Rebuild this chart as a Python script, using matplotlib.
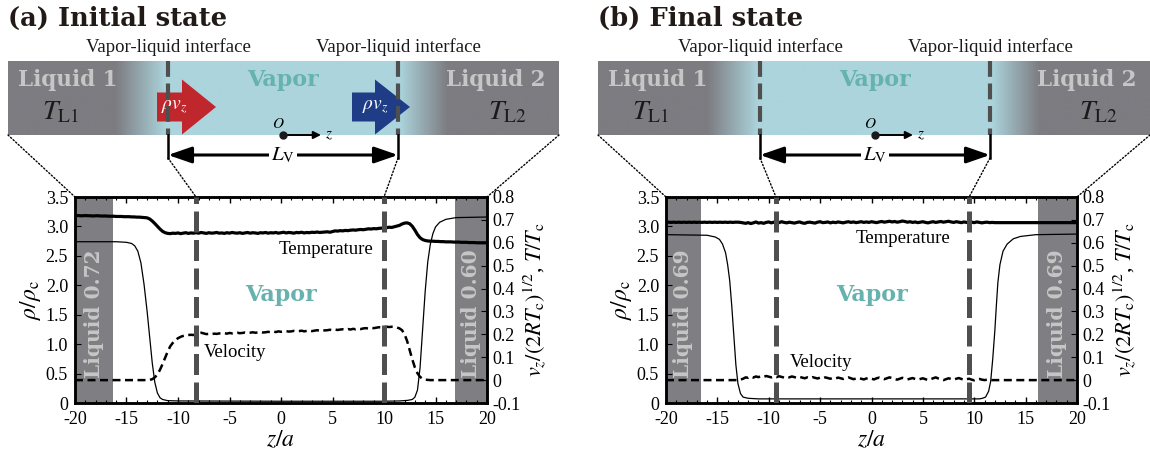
import numpy as np
import matplotlib
matplotlib.use("Agg")
import matplotlib.pyplot as plt
from matplotlib.patches import FancyArrow, ConnectionPatch
from matplotlib.ticker import MultipleLocator

plt.rcParams['font.family'] = ['Liberation Serif', 'DejaVu Serif']
plt.rcParams['mathtext.fontset'] = 'stix'
plt.rcParams['axes.unicode_minus'] = False

# sampling grid of the simulation profiles (z/a)
z_grid = np.arange(-20, 20.001, 0.25)

# ---- (a) initial state ----
temp_a = ([0.718, 0.719, 0.718, 0.718, 0.719, 0.718, 0.718, 0.717, 0.718, 0.718, 0.717,
           0.717, 0.717, 0.716, 0.716, 0.716, 0.715, 0.715, 0.715, 0.714, 0.714]
          + [0.714, 0.713, 0.713, 0.712, 0.712, 0.711, 0.710, 0.709]
          + [0.704, 0.695, 0.684, 0.672, 0.660, 0.650, 0.644, 0.641]
          + [0.640, 0.642, 0.641, 0.643, 0.640, 0.642, 0.644, 0.641, 0.643, 0.642,
             0.644, 0.642, 0.645, 0.643, 0.641, 0.644, 0.642, 0.643, 0.645, 0.642,
             0.643, 0.641, 0.644, 0.642, 0.645, 0.643, 0.642, 0.644, 0.641, 0.643,
             0.645, 0.642, 0.644, 0.643, 0.641, 0.644, 0.643, 0.645, 0.642, 0.644,
             0.643, 0.645, 0.642, 0.644, 0.646, 0.643, 0.645, 0.644, 0.642, 0.645,
             0.644, 0.646, 0.643, 0.645, 0.644, 0.646, 0.645, 0.647, 0.645, 0.646]
          + [0.647, 0.648, 0.646, 0.649, 0.652, 0.651, 0.653, 0.652, 0.654, 0.653, 0.655, 0.656,
             0.655, 0.657, 0.658, 0.657, 0.659, 0.661, 0.660, 0.662, 0.661, 0.663, 0.664, 0.663]
          + [0.666, 0.668, 0.667, 0.670, 0.673, 0.676, 0.682, 0.686]
          + [0.687, 0.683, 0.672, 0.655, 0.636, 0.622, 0.614, 0.610]
          + [0.608, 0.607, 0.607, 0.606, 0.606, 0.605, 0.605, 0.604, 0.604, 0.604, 0.603, 0.603,
             0.603, 0.602, 0.602, 0.602, 0.601, 0.601, 0.601, 0.600, 0.600, 0.600, 0.600, 0.600])

vel_a = ([0.0] * 28
         + [0.000, 0.001, 0.004, 0.012, 0.025, 0.045, 0.070, 0.098, 0.125, 0.148, 0.163,
            0.175, 0.183, 0.189, 0.193, 0.196, 0.197]
         + [0.198, 0.197, 0.200, 0.205, 0.207, 0.204, 0.201, 0.202, 0.200, 0.203,
            0.202, 0.204, 0.203, 0.205, 0.203, 0.206, 0.204, 0.205, 0.207, 0.205,
            0.206, 0.208, 0.206, 0.207, 0.209, 0.207, 0.208, 0.210, 0.208, 0.209,
            0.211, 0.209, 0.212, 0.210, 0.213, 0.211, 0.212, 0.214, 0.212, 0.213,
            0.215, 0.213, 0.214, 0.216, 0.213, 0.215, 0.217, 0.214, 0.216, 0.218,
            0.216, 0.219, 0.217, 0.218, 0.220, 0.218, 0.221, 0.219, 0.221, 0.222,
            0.220, 0.223, 0.221, 0.224, 0.222, 0.225, 0.223, 0.226, 0.227, 0.225,
            0.228, 0.227, 0.229, 0.231, 0.230, 0.232, 0.233, 0.232]
         + [0.233, 0.232, 0.230, 0.226, 0.218, 0.200, 0.170, 0.130, 0.090, 0.055, 0.030,
            0.014, 0.006, 0.002, 0.001, 0.000]
         + [0.0] * 22)

rho_z_a = [-20, -16, -15, -14.5, -14.2, -13.9, -13.6, -13.3, -13.0, -12.75, -12.5, -12.25,
           -12.0, -11.75, -11.5, -11.0, -10.0, 0, 10, 11.5, 12.3, 12.75, 13.0, 13.25, 13.5,
           13.75, 14.0, 14.25, 14.5, 14.75, 15.0, 15.4, 16.0, 17.0, 20]
rho_a = [2.74, 2.74, 2.73, 2.71, 2.67, 2.58, 2.38, 2.02, 1.56, 1.12, 0.68, 0.35,
         0.17, 0.09, 0.06, 0.04, 0.035, 0.03, 0.03, 0.035, 0.045, 0.06, 0.10, 0.22, 0.60,
         1.25, 1.90, 2.40, 2.70, 2.88, 2.99, 3.07, 3.12, 3.15, 3.16]

# ---- (b) final state ----
temp_b = ([0.689, 0.690] * 14
          + [0.690, 0.689, 0.687, 0.685, 0.688, 0.684, 0.687, 0.691, 0.686, 0.688,
             0.685, 0.689, 0.691, 0.687, 0.690, 0.686, 0.688, 0.692, 0.689, 0.687,
             0.690, 0.688, 0.686, 0.689, 0.691, 0.687, 0.685, 0.689, 0.690, 0.688,
             0.686, 0.690, 0.692, 0.688, 0.689, 0.691, 0.687, 0.690, 0.688, 0.691,
             0.689, 0.687, 0.690, 0.692, 0.689, 0.691, 0.688, 0.690, 0.692, 0.689,
             0.691, 0.689, 0.692, 0.690, 0.688, 0.691, 0.693, 0.690, 0.692, 0.694,
             0.691, 0.693, 0.690, 0.692, 0.695, 0.693, 0.690, 0.692, 0.689, 0.691,
             0.688, 0.690, 0.692, 0.689, 0.687, 0.690, 0.692, 0.689, 0.691, 0.693,
             0.690, 0.692, 0.694, 0.691, 0.689, 0.692, 0.690, 0.688, 0.691, 0.689,
             0.687, 0.690, 0.688, 0.691, 0.689, 0.687, 0.689, 0.690, 0.688, 0.689,
             0.688]
          + [0.688] * 32)

vel_b = ([0.0] * 28
         + [0.000, 0.002, 0.006, 0.012, 0.010, 0.015, 0.011, 0.016, 0.013, 0.017,
            0.014, 0.018, 0.015, 0.012, 0.016, 0.013, 0.017, 0.014, 0.011, 0.015,
            0.012, 0.016, 0.013, 0.010, 0.014, 0.011, 0.008, 0.012, 0.009, 0.013,
            0.010, 0.007, 0.011, 0.008, 0.012, 0.009, 0.006, 0.010, 0.007, 0.011,
            0.008, 0.005, 0.009, 0.012, 0.008, 0.004, 0.007, 0.010, 0.006, 0.003,
            0.007, 0.010, 0.006, 0.003, 0.008, 0.011, 0.007, 0.004, 0.008, 0.012,
            0.009, 0.005, 0.002, 0.006, 0.010, 0.007, 0.003, 0.006, 0.009, 0.005,
            0.002, 0.005, 0.008, 0.004, 0.000, 0.004, 0.008, 0.012, 0.007, 0.003,
            0.000, 0.004, 0.008, 0.005, 0.002, 0.006, 0.009, 0.005, 0.001, 0.004,
            0.006, 0.002, -0.001, 0.003, 0.005, 0.002, 0.000, 0.002, 0.001, 0.000,
            0.000]
         + [0.0] * 32)

rho_z_b = [-20, -16, -15.2, -14.8, -14.5, -14.2, -14.0, -13.8, -13.6, -13.4, -13.2, -13.0,
           -12.75, -12.5, -12.0, -11.0, 0, 10.5, 10.8, 11.1, 11.4, 11.6, 11.8, 12.0, 12.15,
           12.3, 12.5, 12.8, 13.2, 13.8, 14.5, 16, 20]
rho_b = [2.86, 2.85, 2.82, 2.78, 2.70, 2.55, 2.35, 2.08, 1.65, 1.15, 0.65, 0.33,
         0.16, 0.10, 0.08, 0.07, 0.07, 0.07, 0.08, 0.10, 0.20, 0.37, 0.75, 1.22, 1.65,
         2.05, 2.35, 2.58, 2.70, 2.79, 2.83, 2.86, 2.87]

# interface positions and liquid-band edges (z/a)
iface_a = [-8.25, 10.0]
iface_b = [-9.3, 9.5]
bands_a = [(-20, -16.3), (16.9, 20)]
bands_b = [(-20, -16.6), (16.2, 20)]
liq_labels_a = ['Liquid 0.72', 'Liquid 0.60']
liq_labels_b = ['Liquid 0.69', 'Liquid 0.69']

x_ticks = [-20, -15, -10, -5, 0, 5, 10, 15, 20]
rho_ticks = [0, 0.5, 1.0, 1.5, 2.0, 2.5, 3.0, 3.5]
rho_ticklabels = ['0', '0.5', '1.0', '1.5', '2.0', '2.5', '3.0', '3.5']
r_ticks = [-0.1, 0, 0.1, 0.2, 0.3, 0.4, 0.5, 0.6, 0.7, 0.8]
r_ticklabels = ['-0.1', '0', '0.1', '0.2', '0.3', '0.4', '0.5', '0.6', '0.7', '0.8']

GRAY = np.array([124, 124, 129]) / 255
LBLUE = np.array([172, 212, 220]) / 255
TEAL = '#66b2ae'
LIQTXT = '#c6c6c6'
BAND = '#7f7f83'
DASHC = '#4f4f4f'
BOLD = dict(family='DejaVu Serif', weight='bold')

fig = plt.figure(figsize=(11.5, 4.54), dpi=100)

# overlay in pixel units for the schematic bars
ov = fig.add_axes([0, 0, 1, 1])
ov.axis('off')


def schematic(x0, x1, ifl, ifr, arrows, title):
    xm = 0.5 * (ifl + ifr)
    xs = np.arange(x0, x1 + 1)
    f = np.interp(xs, [x0, ifl - 53, ifl - 2, ifr + 2, ifr + 50, x1], [0, 0, 1, 1, 0, 0])
    img = (GRAY[None, :] * (1 - f[:, None]) + LBLUE[None, :] * f[:, None])[None, :, :]
    ov.imshow(img, extent=(x0, x1, 135, 61), aspect='auto', interpolation='bilinear', zorder=1)

    ov.text(x0, 18, title, fontsize=18.5, ha='left', va='center', color='#221a17', **BOLD)
    ov.text(x0 + 60, 80, 'Liquid 1', fontsize=15.5, color=LIQTXT, ha='center', va='center', **BOLD)
    ov.text(x1 - 63, 80, 'Liquid 2', fontsize=15.5, color=LIQTXT, ha='center', va='center', **BOLD)
    ov.text(xm, 80, 'Vapor', fontsize=16, color=TEAL, ha='center', va='center', **BOLD)
    ov.text(x0 + 52, 113, r'$T_{\rm L1}$', fontsize=20, ha='center', va='center', color='#1a1a1a')
    ov.text(x1 - 52, 113, r'$T_{\rm L2}$', fontsize=20, ha='center', va='center', color='#1a1a1a')

    if arrows:
        ov.add_patch(FancyArrow(ifl - 11, 107, 59, 0, width=29, head_width=55, head_length=34,
                                length_includes_head=True, color='#c0272d', lw=0, zorder=3))
        ov.add_patch(FancyArrow(ifr - 46, 107, 58, 0, width=29, head_width=55, head_length=35,
                                length_includes_head=True, color='#1f3d86', lw=0, zorder=3))
        ov.text(ifl + 6, 107, r'$\rho v_z$', fontsize=14, color='white', ha='center', va='center', zorder=4)
        ov.text(ifr - 23, 107, r'$\rho v_z$', fontsize=14, color='white', ha='center', va='center', zorder=4)

    for xi in (ifl, ifr):
        ov.plot([xi, xi], [61, 135], color=DASHC, lw=3, dashes=(3.8, 1.6), zorder=5)
        ov.plot([xi, xi], [135, 158], color='k', lw=1.8, zorder=5)
        ov.text(xi, 47, 'Vapor-liquid interface', fontsize=13.5, ha='center', va='center', color='#1a1a1a')

    ov.annotate('', xy=(ifl, 155), xytext=(ifr, 155),
                arrowprops=dict(arrowstyle='<|-|>,head_length=1.1,head_width=0.38', lw=2.2,
                                color='k', shrinkA=0, shrinkB=0, mutation_scale=13))
    ov.text(xm, 155, r'$L_{\rm V}$', fontsize=15, ha='center', va='center',
            bbox=dict(fc='white', ec='none', pad=1.5))

    ov.plot(xm, 135, 'o', ms=5, color='#1a1a1a', zorder=6)
    ov.annotate('', xy=(xm + 38, 135), xytext=(xm, 135),
                arrowprops=dict(arrowstyle='-|>', lw=1.4, color='k', mutation_scale=11,
                                shrinkA=0, shrinkB=0))
    ov.text(xm - 5, 124, r'$O$', fontsize=11, ha='center', va='center')
    ov.text(xm + 46, 136, r'$z$', fontsize=11, ha='center', va='center')


def panel(rect, temp, vel, rz, rho, ifaces, bands, liq_labels, t_pos, v_pos):
    ax = fig.add_axes(rect)
    ax2 = ax.twinx()
    for lo, hi in bands:
        ax.axvspan(lo, hi, color=BAND, lw=0, zorder=0)
    for (lo, hi), lab in zip(bands, liq_labels):
        ax.text(0.5 * (lo + hi), 1.52, lab, rotation=90, fontsize=14.5, color=LIQTXT,
                ha='center', va='center', **BOLD)
    ax.plot(rz, rho, color='k', lw=0.9, zorder=2)
    ax2.plot(z_grid, temp, color='k', lw=2.3, zorder=3)
    ax2.plot(z_grid, vel, color='k', lw=1.8, dashes=(3.2, 1.8), zorder=3)
    for zi in ifaces:
        ax2.axvline(zi, color=DASHC, lw=3.6, dashes=(4.2, 1.5), zorder=4)

    ax.text(t_pos[0], t_pos[1], 'Temperature', fontsize=13.5, ha='center', va='center')
    ax.text(v_pos[0], v_pos[1], 'Velocity', fontsize=13.5, ha='center', va='center')
    ax.text(0, 1.83, 'Vapor', fontsize=16, color=TEAL, ha='center', va='center', **BOLD)

    ax.set_xlim(-20, 20)
    ax.set_ylim(0, 3.5)
    ax2.set_ylim(-0.1, 0.8)
    ax.set_xticks(x_ticks)
    ax.set_xticklabels([str(t) for t in x_ticks])
    ax.xaxis.set_minor_locator(MultipleLocator(1))
    ax.set_yticks(rho_ticks)
    ax.set_yticklabels(rho_ticklabels)
    ax2.set_yticks(r_ticks)
    ax2.set_yticklabels(r_ticklabels)
    ax.tick_params(axis='x', which='both', direction='in', top=True, labelsize=13, pad=6)
    ax.tick_params(axis='x', which='major', length=4, width=1)
    ax.tick_params(axis='x', which='minor', length=2.5, width=0.8)
    ax.tick_params(axis='y', direction='in', length=4, labelsize=13, pad=5)
    ax2.tick_params(axis='y', direction='in', length=4, labelsize=13, pad=4)
    for a in (ax, ax2):
        for s in a.spines.values():
            s.set_linewidth(1.8)

    ax.set_xlabel(r'$z/a$', fontsize=17)
    ax.xaxis.set_label_coords(0.5, -0.13)
    ax.set_ylabel(r'$\rho/\rho_{\rm c}$', fontsize=17)
    ax.yaxis.set_label_coords(-0.078, 0.5)
    ax2.set_ylabel(r'$v_z/(2RT_{\rm c})^{1/2}$, $T/T_{\rm c}$', fontsize=16)
    ax2.yaxis.set_label_coords(1.085, 0.5)
    return ax


W, H = 1150, 454
rect_a = [75 / W, 1 - 403 / H, 412 / W, 206 / H]
rect_b = [666 / W, 1 - 403 / H, 411 / W, 206 / H]

schematic(8, 559, 168, 398, True, '(a) Initial state')
schematic(598, 1150, 760, 990, False, '(b) Final state')

ax_a = panel(rect_a, temp_a, vel_a, rho_z_a, rho_a, iface_a, bands_a, liq_labels_a,
             (4.4, 2.61), (-4.5, 0.85))
ax_b = panel(rect_b, temp_b, vel_b, rho_z_b, rho_b, iface_b, bands_b, liq_labels_b,
             (3.1, 2.79), (-4.9, 0.68))

ov.set_xlim(0, W)
ov.set_ylim(H, 0)

# dotted zoom lines from the schematic down to the plots
links = [((8, 135), (-20, 3.5), ax_a), ((559, 135), (20, 3.5), ax_a),
         ((168, 158), (iface_a[0], 3.5), ax_a), ((398, 158), (iface_a[1], 3.5), ax_a),
         ((598, 135), (-20, 3.5), ax_b), ((1150, 135), (20, 3.5), ax_b),
         ((760, 158), (iface_b[0], 3.5), ax_b), ((990, 158), (iface_b[1], 3.5), ax_b)]
for pA, pB, axp in links:
    con = ConnectionPatch(xyA=pA, coordsA=ov.transData, xyB=pB, coordsB=axp.transData,
                          color='k', lw=1.0, linestyle=(0, (1, 1.5)))
    fig.add_artist(con)

fig.savefig('out.png', dpi=100)
